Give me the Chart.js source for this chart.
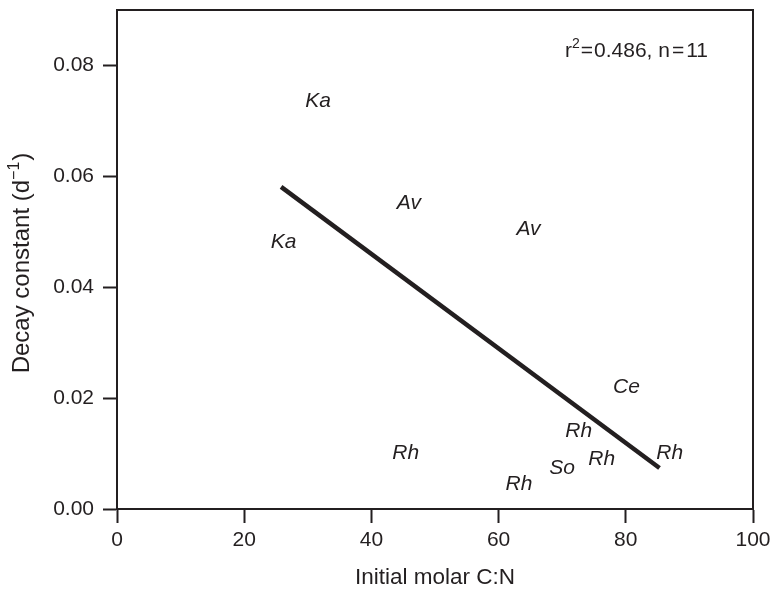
<!DOCTYPE html>
<html>
<head>
<meta charset="utf-8">
<script src="https://cdn.jsdelivr.net/npm/chart.js@4/dist/chart.umd.min.js"></script>
<style>
  html, body { margin: 0; padding: 0; background: #ffffff; }
  #wrap { width: 774px; height: 591px; }
</style>
</head>
<body>
<div id="wrap"><canvas id="c" width="774" height="591"></canvas></div>
<script>
// Litter decay constants against initial molar C:N, one label per species
const speciesLabels = ['Ka', 'Ka', 'Av', 'Av', 'Ce', 'Rh', 'Rh', 'Rh', 'So', 'Rh', 'Rh'];
const molarCN = [31.6, 26.2, 45.9, 64.7, 80.1, 72.6, 45.4, 63.2, 70.0, 76.2, 86.9];
const decayK = [0.0735, 0.0481, 0.0552, 0.0504, 0.0220, 0.0141, 0.0100, 0.0045, 0.0073, 0.0090, 0.0100];

// Least-squares fit line end points
const fitCN = [25.8, 85.3];
const fitK = [0.0581, 0.0074];

// Axis ticks
const xTicks = [0, 20, 40, 60, 80, 100];
const yTicks = [0.00, 0.02, 0.04, 0.06, 0.08];

const INK = '#231f20';
const FONT = '"Liberation Sans", Arial, Helvetica, sans-serif';

// Draws a run of text pieces, some of them raised as superscripts
function drawRuns(ctx, runs, x, y, size) {
  let cx = x;
  for (const r of runs) {
    const fs = r.sup ? Math.round(size * 0.68) : size;
    ctx.font = fs + 'px ' + FONT;
    ctx.fillText(r.t, cx, r.sup ? y - size * 0.42 : y);
    cx += ctx.measureText(r.t).width + (r.gap || 0);
  }
  return cx - x;
}
function measureRuns(ctx, runs, size) {
  let w = 0;
  for (const r of runs) {
    const fs = r.sup ? Math.round(size * 0.68) : size;
    ctx.font = fs + 'px ' + FONT;
    w += ctx.measureText(r.t).width + (r.gap || 0);
  }
  return w;
}

const annotate = {
  id: 'annotate',
  afterDatasetsDraw(chart) {
    const ctx = chart.ctx;
    const meta = chart.getDatasetMeta(0);
    ctx.save();
    ctx.fillStyle = INK;
    ctx.font = 'italic 21px ' + FONT;
    ctx.textAlign = 'center';
    ctx.textBaseline = 'middle';
    meta.data.forEach((pt, i) => {
      ctx.fillText(speciesLabels[i], pt.x, pt.y);
    });
    ctx.restore();
  },
  afterDraw(chart) {
    const ctx = chart.ctx;
    const a = chart.chartArea;
    ctx.save();
    // frame around the plotting area
    ctx.strokeStyle = INK;
    ctx.lineWidth = 2;
    ctx.beginPath();
    ctx.moveTo(a.left - 1, a.top);
    ctx.lineTo(a.right, a.top);
    ctx.lineTo(a.right, a.bottom + 1);
    ctx.stroke();

    ctx.fillStyle = INK;
    ctx.textAlign = 'left';
    ctx.textBaseline = 'alphabetic';

    // fit statistics
    const stats = [
      { t: 'r' },
      { t: '2', sup: true, gap: 1 },
      { t: '=', gap: 1 },
      { t: '0.486, n', gap: 2 },
      { t: '=', gap: 2 },
      { t: '11' }
    ];
    drawRuns(ctx, stats, 565, 57, 21);

    // y axis title, rotated
    const ytitle = [
      { t: 'Decay constant (d' },
      { t: '\u22121', sup: true, gap: 1 },
      { t: ')' }
    ];
    const w = measureRuns(ctx, ytitle, 24);
    ctx.translate(29, 263);
    ctx.rotate(-Math.PI / 2);
    drawRuns(ctx, ytitle, -w / 2, 0, 24);
    ctx.restore();
  }
};

new Chart(document.getElementById('c'), {
  type: 'scatter',
  data: {
    datasets: [
      {
        label: 'Species',
        data: molarCN.map((x, i) => ({ x: x, y: decayK[i] })),
        pointRadius: 0,
        pointHoverRadius: 0,
        showLine: false
      },
      {
        label: 'Fit',
        data: fitCN.map((x, i) => ({ x: x, y: fitK[i] })),
        showLine: true,
        borderColor: INK,
        borderWidth: 4.5,
        borderCapStyle: 'butt',
        pointRadius: 0,
        fill: false
      }
    ]
  },
  options: {
    responsive: false,
    devicePixelRatio: 1,
    animation: false,
    events: [],
    layout: { padding: { left: 0, top: 10, right: 21, bottom: 0 } },
    plugins: { legend: { display: false }, tooltip: { enabled: false } },
    scales: {
      x: {
        type: 'linear',
        min: 0,
        max: 100,
        afterBuildTicks: s => { s.ticks = xTicks.map(v => ({ value: v })); },
        afterFit: s => { s.height = 82; s.paddingLeft = 0; s.paddingRight = 0; },
        grid: { drawOnChartArea: false, drawTicks: true, tickLength: 14, tickWidth: 2, tickColor: INK },
        border: { display: true, color: INK, width: 2 },
        ticks: {
          padding: 5,
          color: INK,
          font: { family: FONT, size: 21 },
          maxRotation: 0,
          callback: v => String(v)
        },
        title: {
          display: true,
          text: 'Initial molar C:N',
          color: INK,
          font: { family: FONT, size: 22.5 },
          padding: { top: 0, bottom: 0 }
        }
      },
      y: {
        type: 'linear',
        min: 0,
        max: 0.09,
        afterBuildTicks: s => { s.ticks = yTicks.map(v => ({ value: v })); },
        afterFit: s => { s.width = 117; s.paddingTop = 0; s.paddingBottom = 0; },
        grid: { drawOnChartArea: false, drawTicks: true, tickLength: 14, tickWidth: 2, tickColor: INK },
        border: { display: true, color: INK, width: 2 },
        ticks: {
          padding: 9,
          color: INK,
          font: { family: FONT, size: 21 },
          callback: v => Number(v).toFixed(2)
        }
      }
    }
  },
  plugins: [annotate]
});
</script>
</body>
</html>
